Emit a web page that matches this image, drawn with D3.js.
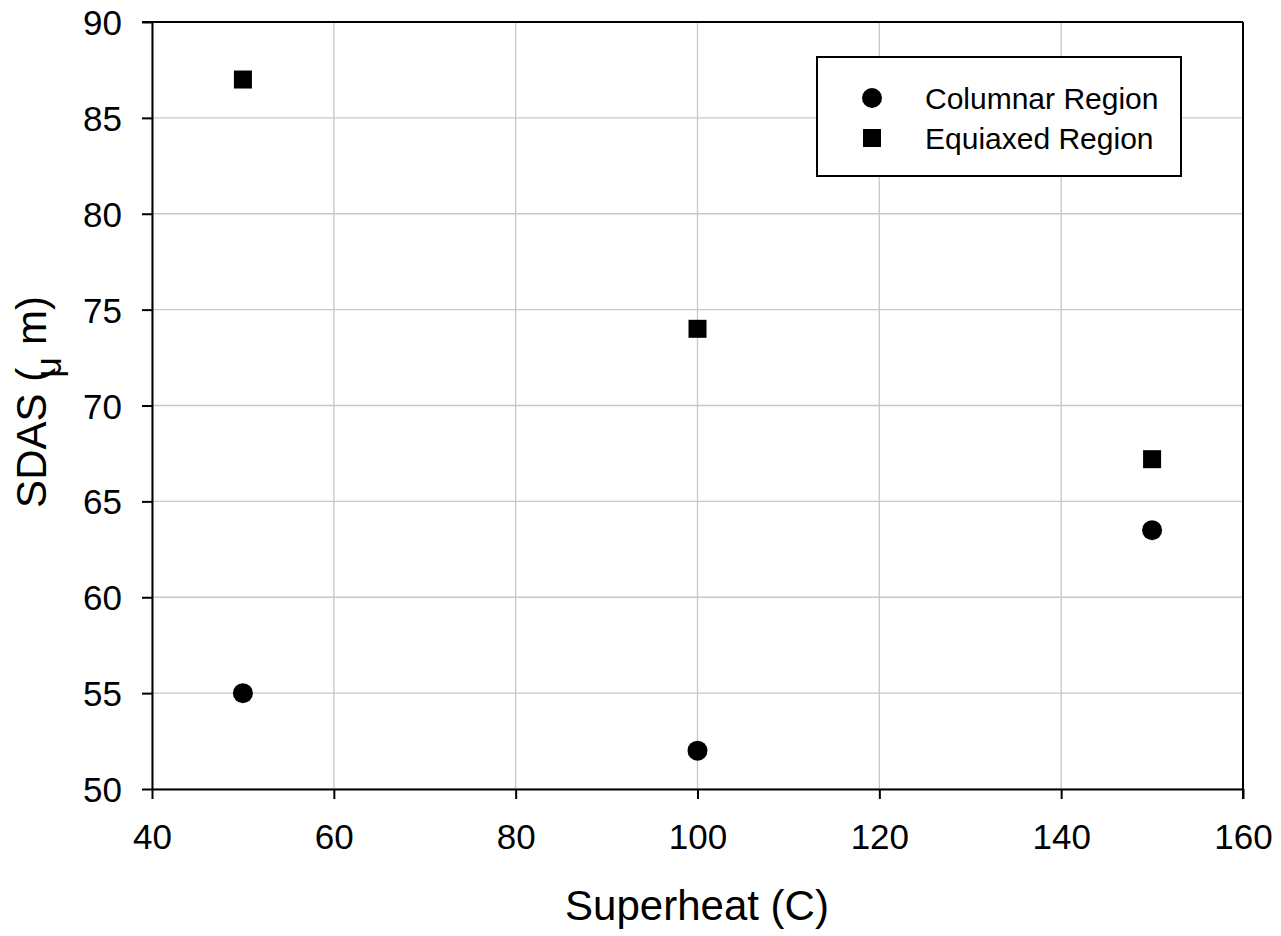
<!DOCTYPE html>
<html>
<head>
<meta charset="utf-8">
<script src="https://cdn.jsdelivr.net/npm/d3@7"></script>
<style>
  html, body { margin: 0; padding: 0; background: #fff; }
  svg { display: block; font-family: "Liberation Sans", Arial, sans-serif; }
</style>
</head>
<body>
<svg id="chart" width="1281" height="936"></svg>
<script>
// Secondary dendrite arm spacing versus melt superheat
const superheat = [50, 100, 150];
const columnarSDAS = [55, 52, 63.5];
const equiaxedSDAS = [87, 74, 67.2];
const xTicks = [40, 60, 80, 100, 120, 140, 160];
const yTicks = [50, 55, 60, 65, 70, 75, 80, 85, 90];
const seriesNames = ["Columnar Region", "Equiaxed Region"];

const svg = d3.select("#chart");
const margin = { left: 152, top: 22, right: 1243, bottom: 789 };

const x = d3.scaleLinear().domain([40, 160]).range([margin.left, margin.right]);
const y = d3.scaleLinear().domain([50, 90]).range([margin.bottom, margin.top]);

// grid
const grid = svg.append("g");
grid.selectAll("line.gx").data(xTicks).join("line")
  .attr("x1", d => x(d)).attr("x2", d => x(d))
  .attr("y1", margin.top).attr("y2", margin.bottom)
  .attr("stroke", "#c8c8c8").attr("stroke-width", 1.3);
grid.selectAll("line.gy").data(yTicks).join("line")
  .attr("y1", d => y(d)).attr("y2", d => y(d))
  .attr("x1", margin.left).attr("x2", margin.right)
  .attr("stroke", "#c8c8c8").attr("stroke-width", 1.3);

// top and right frame
svg.append("line").attr("x1", margin.left - 10).attr("x2", margin.right)
  .attr("y1", margin.top).attr("y2", margin.top).attr("stroke", "#000").attr("stroke-width", 2);
svg.append("line").attr("x1", margin.right).attr("x2", margin.right)
  .attr("y1", margin.top).attr("y2", margin.bottom + 10).attr("stroke", "#000").attr("stroke-width", 2);

// axes
const xAxis = svg.append("g").attr("transform", `translate(0,${margin.bottom})`)
  .call(d3.axisBottom(x).tickValues(xTicks).tickSize(10).tickPadding(25).tickSizeOuter(0));
const yAxis = svg.append("g").attr("transform", `translate(${margin.left},0)`)
  .call(d3.axisLeft(y).tickValues(yTicks).tickSize(10).tickPadding(20).tickSizeOuter(0));
[xAxis, yAxis].forEach(g => {
  g.select(".domain").attr("stroke", "#000").attr("stroke-width", 2);
  g.selectAll(".tick line").attr("stroke", "#000").attr("stroke-width", 2);
  g.selectAll(".tick text").attr("fill", "#000")
    .style("font-size", "35px").style("font-family", "Liberation Sans, Arial, sans-serif");
});
yAxis.selectAll(".tick text").attr("dy", "0.36em");

// axis titles
svg.append("text").attr("x", 697).attr("y", 920)
  .attr("text-anchor", "middle").style("font-size", "42px").attr("fill", "#000")
  .text("Superheat (C)");
const yt = svg.append("text")
  .attr("transform", `translate(46,402) rotate(-90)`)
  .attr("text-anchor", "middle").style("font-size", "42px").attr("fill", "#000");
yt.append("tspan").text("SDAS (");
yt.append("tspan").text("μ").attr("dy", "0.42em").attr("dx", "-10").style("font-size", "36px");
yt.append("tspan").text("m)").attr("dy", "-0.36em").attr("dx", "12");

// markers
const circleR = 10, sq = 18;
svg.append("g").selectAll("circle").data(superheat.map((s, i) => [s, columnarSDAS[i]])).join("circle")
  .attr("cx", d => x(d[0])).attr("cy", d => y(d[1])).attr("r", circleR).attr("fill", "#000");
svg.append("g").selectAll("rect").data(superheat.map((s, i) => [s, equiaxedSDAS[i]])).join("rect")
  .attr("x", d => x(d[0]) - sq / 2).attr("y", d => y(d[1]) - sq / 2)
  .attr("width", sq).attr("height", sq).attr("fill", "#000");

// legend
const lg = svg.append("g");
lg.append("rect").attr("x", 817).attr("y", 57).attr("width", 364).attr("height", 119)
  .attr("fill", "#fff").attr("stroke", "#000").attr("stroke-width", 2);
lg.append("circle").attr("cx", 872).attr("cy", 98).attr("r", circleR).attr("fill", "#000");
lg.append("rect").attr("x", 872 - 9).attr("y", 138 - 9).attr("width", 18).attr("height", 18).attr("fill", "#000");
lg.selectAll("text").data(seriesNames).join("text")
  .attr("x", 925).attr("y", (d, i) => 98 + i * 40).attr("dy", "0.36em")
  .style("font-size", "30px").attr("fill", "#000").text(d => d);
</script>
</body>
</html>
